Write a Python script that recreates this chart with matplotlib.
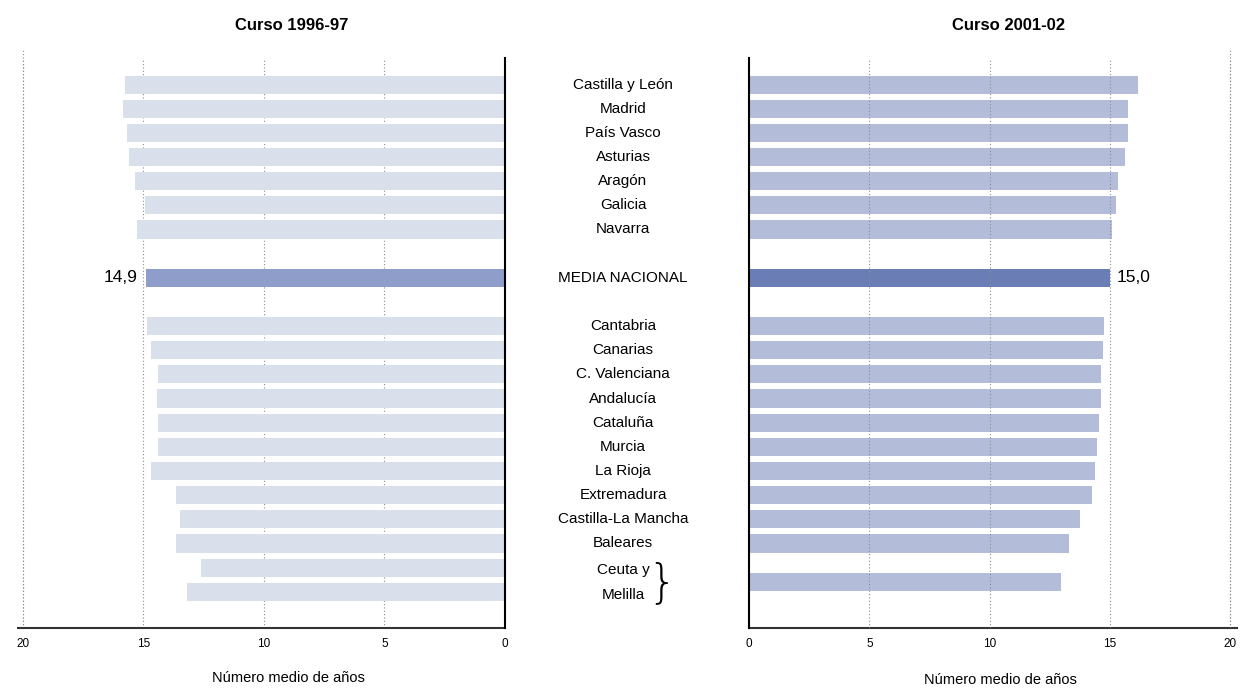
import matplotlib
matplotlib.use('Agg')
import matplotlib.pyplot as plt
from matplotlib.transforms import blended_transform_factory

plt.rcParams['font.family'] = ['Liberation Sans', 'DejaVu Sans']

# datos (número medio de años)
regiones_top = ['Castilla y León', 'Madrid', 'País Vasco', 'Asturias',
                'Aragón', 'Galicia', 'Navarra']
regiones_bottom = ['Cantabria', 'Canarias', 'C. Valenciana', 'Andalucía',
                   'Cataluña', 'Murcia', 'La Rioja', 'Extremadura',
                   'Castilla-La Mancha', 'Baleares']

curso96_top = [15.77, 15.85, 15.68, 15.6, 15.35, 14.95, 15.27]
curso96_media = 14.9
curso96_bottom = [14.87, 14.7, 14.38, 14.45, 14.38, 14.38, 14.7,
                  13.65, 13.49, 13.65]
curso96_ceuta = 12.6
curso96_melilla = 13.17

curso01_top = [16.14, 15.75, 15.75, 15.63, 15.31, 15.24, 15.06]
curso01_media = 15.0
curso01_bottom = [14.74, 14.69, 14.62, 14.62, 14.55, 14.44, 14.37,
                  14.24, 13.75, 13.3]
curso01_ceuta_melilla = 12.98

xticks = [0, 5, 10, 15, 20]

# posiciones de las filas
pos_top = list(range(len(regiones_top)))
pos_media = len(regiones_top) + 1
pos_bottom = [pos_media + 2 + i for i in range(len(regiones_bottom))]
pos_ceuta = pos_bottom[-1] + 1
pos_melilla = pos_ceuta + 1
pos_cm = (pos_ceuta + pos_melilla) / 2 + 0.1

W, H = 1244, 688
fig = plt.figure(figsize=(W / 100, H / 100), dpi=100)


def px_axes(x0, x1, y0, y1):
    return fig.add_axes([x0 / W, 1 - y1 / H, (x1 - x0) / W, (y1 - y0) / H])


ax_l = px_axes(18, 505, 58, 628)
ax_r = px_axes(749, 1237, 58, 628)

claro_l = '#d9dfeb'
media_l = '#8f9dca'
claro_r = '#b3bdda'
media_r = '#6a7db5'
alto = 0.75

# panel izquierdo (curso 1996-97)
ax_l.barh(pos_top, curso96_top, height=alto, color=claro_l)
ax_l.barh([pos_media], [curso96_media], height=alto, color=media_l)
ax_l.barh(pos_bottom, curso96_bottom, height=alto, color=claro_l)
ax_l.barh([pos_ceuta, pos_melilla], [curso96_ceuta, curso96_melilla],
          height=alto, color=claro_l)
ax_l.set_xlim(20.2, 0)
ax_l.set_axisbelow(True)
ax_l.annotate('14,9', (curso96_media, pos_media), xytext=(-6, 0),
              textcoords='offset points', ha='right', va='center', fontsize=12.5)

# panel derecho (curso 2001-02)
ax_r.barh(pos_top, curso01_top, height=alto, color=claro_r, zorder=1)
ax_r.barh([pos_media], [curso01_media], height=alto, color=media_r, zorder=1)
ax_r.barh(pos_bottom, curso01_bottom, height=alto, color=claro_r, zorder=1)
ax_r.barh([pos_cm], [curso01_ceuta_melilla], height=alto, color=claro_r, zorder=1)
ax_r.set_xlim(0, 20.27)
ax_r.set_axisbelow(False)
ax_r.annotate('15,0', (curso01_media, pos_media), xytext=(4.5, 0),
              textcoords='offset points', ha='left', va='center', fontsize=12.5)

for ax, lado in ((ax_l, 'right'), (ax_r, 'left')):
    ax.set_ylim(22.5, -1.1)
    ax.set_xticks(xticks)
    ax.set_yticks([])
    ax.grid(axis='x', linestyle=(0, (1, 2)), color='#8c8c8c', linewidth=0.8)
    ax.tick_params(axis='x', length=0, labelsize=8.5, pad=7)
    for s in ax.spines:
        ax.spines[s].set_visible(False)
    ax.spines[lado].set_visible(True)
    ax.spines[lado].set_linewidth(1.5)
    ax.spines[lado].set_zorder(3)
    ax.spines['bottom'].set_visible(True)
    ax.spines['bottom'].set_linewidth(1.5)
    ax.spines['bottom'].set_color('#333333')
    ax.axvline(20, ymin=0, ymax=1.015, linestyle=(0, (1, 2)), color='#8c8c8c',
               linewidth=0.8, clip_on=False)

# etiquetas centrales
tr = blended_transform_factory(fig.transFigure, ax_r.transData)
xc = 623 / W
for nombre, p in zip(regiones_top, pos_top):
    ax_r.text(xc, p, nombre, transform=tr, ha='center', va='center', fontsize=11)
ax_r.text(xc, pos_media, 'MEDIA NACIONAL', transform=tr, ha='center',
          va='center', fontsize=11)
for nombre, p in zip(regiones_bottom, pos_bottom):
    ax_r.text(xc, p, nombre, transform=tr, ha='center', va='center', fontsize=11)
ax_r.text(xc, pos_ceuta + 0.1, 'Ceuta y', transform=tr, ha='center',
          va='center', fontsize=11)
ax_r.text(xc, pos_melilla + 0.15, 'Melilla', transform=tr, ha='center',
          va='center', fontsize=11)
ax_r.text(662 / W, pos_cm + 0.05, '}', transform=tr, ha='center', va='center',
          fontsize=33, family='DejaVu Sans', fontweight='light')

# títulos y rótulos de ejes
fig.text(292 / W, 1 - 25 / H, 'Curso 1996-97', ha='center', va='center',
         fontsize=12, fontweight='bold')
fig.text(1008 / W, 1 - 25 / H, 'Curso 2001-02', ha='center', va='center',
         fontsize=12, fontweight='bold')
fig.text(288 / W, 1 - 678 / H, 'Número medio de años', ha='center',
         va='center', fontsize=10.5)
fig.text(1000 / W, 1 - 680 / H, 'Número medio de años', ha='center',
         va='center', fontsize=10.5)

fig.savefig('out.png', dpi=100, facecolor='white')
